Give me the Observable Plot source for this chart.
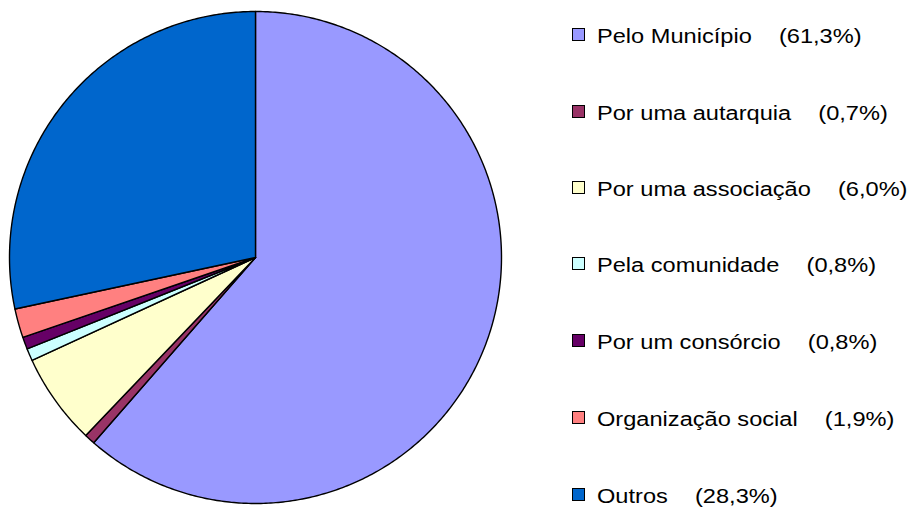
<!DOCTYPE html>
<html>
<head>
<meta charset="utf-8">
<script src="https://cdn.jsdelivr.net/npm/d3@7"></script>
<script src="https://cdn.jsdelivr.net/npm/@observablehq/plot@0.6"></script>
<style>
  html, body { margin: 0; padding: 0; background: #fff; }
  #wrap { position: relative; width: 922px; height: 511px; font-family: "Liberation Sans", Arial, sans-serif; }
  #chart { position: absolute; left: 0; top: 0; }
  #legend { position: absolute; left: 572px; top: 0; }
  .row { position: absolute; left: 0; display: flex; align-items: center; white-space: nowrap; font-size: 20px; color: #000; height: 24px; }
  .sw { width: 11px; height: 11px; border: 1px solid #000; margin-right: 12px; margin-top: -3px; flex: none; }
  .txt { display: inline-block; transform: scaleX(1.18); transform-origin: 0 50%; }
  .pct { margin-left: 23px; }
</style>
</head>
<body>
<div id="wrap"><div id="chart"></div><div id="legend"></div></div>
<script>
const categories = ["Pelo Município", "Por uma autarquia", "Por uma associação", "Pela comunidade", "Por um consórcio", "Organização social", "Outros"];
const values = [61.3, 0.7, 6.0, 0.8, 0.8, 1.9, 28.3];
const labels = ["(61,3%)", "(0,7%)", "(6,0%)", "(0,8%)", "(0,8%)", "(1,9%)", "(28,3%)"];
const colors = ["#9999FF", "#993366", "#FFFFCC", "#CCFFFF", "#660066", "#FF8080", "#0066CC"];

const total = d3.sum(values);
const pts = [];
let start = 0;
categories.forEach((c, i) => {
  const a0 = start / total * 2 * Math.PI;
  const a1 = (start + values[i]) / total * 2 * Math.PI;
  start += values[i];
  pts.push({cat: c, x: 0, y: 0});
  const n = Math.max(2, Math.ceil((a1 - a0) / 0.01));
  for (let k = 0; k <= n; k++) {
    const a = a0 + (a1 - a0) * k / n;
    pts.push({cat: c, x: Math.sin(a), y: Math.cos(a)});
  }
  pts.push({cat: c, x: 0, y: 0});
});

const cx = 255, cy = 257, r = 246;
const chart = Plot.plot({
  width: 560,
  height: 511,
  margin: 0,
  x: {domain: [-1, 1], range: [cx - r, cx + r], axis: null},
  y: {domain: [-1, 1], range: [cy + r, cy - r], axis: null},
  color: {domain: categories, range: colors},
  marks: [
    Plot.line(pts, {x: "x", y: "y", z: "cat", fill: "cat", stroke: "#000", strokeWidth: 1.4, strokeLinejoin: "round", curve: "linear"})
  ]
});
document.getElementById("chart").appendChild(chart);

const legend = document.getElementById("legend");
const rowY = [36, 113, 189, 265, 342, 419, 496];
categories.forEach((c, i) => {
  const row = document.createElement("div");
  row.className = "row";
  row.style.top = (rowY[i] - 12) + "px";
  row.innerHTML = `<div class="sw" style="background:${colors[i]}"></div><span class="txt"><span>${c}</span><span class="pct">${labels[i]}</span></span>`;
  legend.appendChild(row);
});
</script>
</body>
</html>
